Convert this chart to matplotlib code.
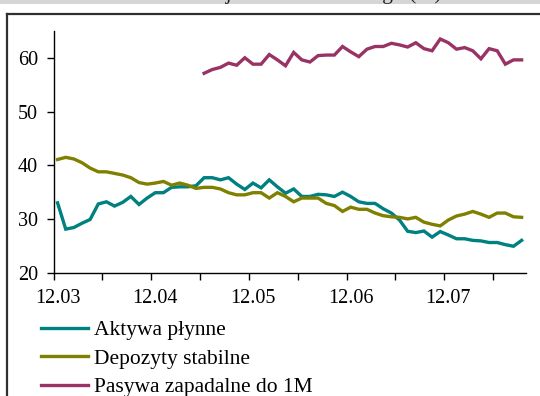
import numpy as np
import matplotlib
matplotlib.use("Agg")
import matplotlib.pyplot as plt
from matplotlib.patches import Rectangle
from matplotlib.lines import Line2D

plt.rcParams['font.family'] = ['Liberation Serif', 'DejaVu Serif']

title = "Udział w sumie bilansowej sektora bankowego (%)"
tick_labels = ["12.03", "12.04", "12.05", "12.06", "12.07"]
series_names = ["Aktywa płynne", "Depozyty stabilne", "Pasywa zapadalne do 1M"]

aktywa = [33.0, 28.1, 28.4, 29.2, 29.9, 32.8, 33.2, 32.4, 33.1, 34.2,
          32.7, 33.9, 34.9, 34.9, 35.9, 36.0, 36.0, 36.2, 37.7, 37.7,
          37.3, 37.7, 36.5, 35.5, 36.7, 35.8, 37.3, 36.0, 34.8, 35.6,
          34.2, 34.2, 34.6, 34.5, 34.2, 35.0, 34.2, 33.2, 32.9, 32.9,
          31.9, 31.1, 29.8, 27.7, 27.45, 27.75, 26.6, 27.65, 27.0, 26.3,
          26.3, 26.0, 25.9, 25.6, 25.6, 25.2, 24.9, 26.0]

depozyty = [41.1, 41.5, 41.2, 40.5, 39.5, 38.8, 38.8, 38.5, 38.2, 37.7,
            36.8, 36.5, 36.7, 37.0, 36.3, 36.7, 36.3, 35.7, 35.9, 35.9,
            35.6, 34.9, 34.5, 34.5, 34.9, 34.9, 33.9, 34.9, 34.2, 33.2,
            33.9, 33.9, 33.9, 32.9, 32.5, 31.4, 32.2, 31.8, 31.8, 31.1,
            30.6, 30.4, 30.3, 30.0, 30.3, 29.4, 29.0, 28.7, 29.8, 30.55,
            30.9, 31.4, 30.9, 30.3, 31.1, 31.1, 30.4, 30.3]

pasywa = [None] * 18 + [57.2, 57.9, 58.3, 59.1, 58.7, 60.1, 58.9, 58.9, 60.7, 59.7,
                        58.6, 61.1, 59.7, 59.3, 60.5, 60.6, 60.6, 62.2, 61.2, 60.3,
                        61.7, 62.2, 62.2, 62.8, 62.5, 62.1, 62.9, 61.8, 61.4, 63.6,
                        62.9, 61.7, 62.0, 61.4, 59.9, 61.8, 61.4, 58.9, 59.7, 59.7]

colors = ["#008080", "#808000", "#993366"]
n = len(aktywa)
x = np.arange(n) + 0.5
W, H = 540, 396

fig = plt.figure(figsize=(W / 100, H / 100), dpi=100)
fig.patch.set_facecolor("white")

# top gray band and outer frame
fig.add_artist(Rectangle((0, 1 - 4.2 / H), 1, 4.2 / H, transform=fig.transFigure,
                         facecolor="#d6d6d6", edgecolor="none", zorder=0))
fig.add_artist(Line2D([7 / W, 7 / W], [0, 1 - 13.8 / H], transform=fig.transFigure,
                      color="#303030", lw=1.6))
fig.add_artist(Line2D([7 / W, 1], [1 - 13.8 / H, 1 - 13.8 / H], transform=fig.transFigure,
                      color="#303030", lw=1.6))
fig.text(442 / W, 1 + 0.6 / H, title, ha="right", va="baseline", fontsize=15.5,
         color="#202020")

ax = fig.add_axes([53.5 / W, 1 - 272.5 / H, (525.7 - 53.5) / W, (272.5 - 31.5) / H])
vals = [np.array(aktywa, float), np.array(depozyty, float),
        np.array([np.nan if v is None else v for v in pasywa], float)]
handles = []
for v, c, name in zip(vals, colors, series_names):
    h, = ax.plot(x, v, color=c, lw=2.4, label=name, solid_joinstyle="miter")
    handles.append(h)

ax.set_xlim(0, n)
ax.set_ylim(20, 65)
ax.set_yticks([20, 30, 40, 50, 60])
ax.set_xticks(np.arange(0, n - 3, 6))
ax.set_xticklabels([])
ax.set_xticks(np.arange(len(tick_labels)) * 12 + 0.5, minor=True)
ax.set_xticklabels(tick_labels, minor=True)
ax.tick_params(axis="x", which="major", direction="out", length=5, width=1, color="black")
ax.tick_params(axis="x", which="minor", length=0, pad=12, labelsize=14.5)
ax.tick_params(axis="y", direction="out", length=5, width=1, pad=6, labelsize=14.5)
for s in ["top", "right"]:
    ax.spines[s].set_visible(False)
for s in ["left", "bottom"]:
    ax.spines[s].set_linewidth(1)
    ax.spines[s].set_color("black")

leg = fig.legend(handles=handles, loc="upper left", bbox_to_anchor=(41 / W, 1 - 320 / H),
                 frameon=False, fontsize=15.5, handlelength=2.2, handletextpad=0.25,
                 labelspacing=0.40, borderpad=0, borderaxespad=0)
for lh in leg.get_lines():
    lh.set_linewidth(2.4)

fig.savefig("out.png", dpi=100)
